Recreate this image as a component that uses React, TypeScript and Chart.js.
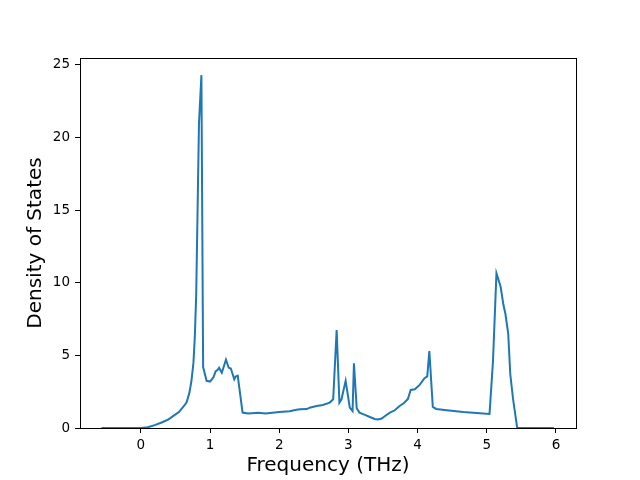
import React, { useEffect, useRef } from "react";
import { Chart, registerables } from "chart.js";

Chart.register(...registerables);

const freq: number[] = [
  -0.57, -0.3, 0.0, 0.1, 0.2, 0.3, 0.4, 0.47, 0.55, 0.62, 0.66, 0.7, 0.73, 0.76, 0.78, 0.8, 0.84, 0.875,
  0.9, 0.95, 1.0, 1.05, 1.08, 1.11, 1.13, 1.17, 1.23, 1.27, 1.3, 1.35, 1.37, 1.4, 1.47, 1.55, 1.7, 1.8,
  1.9, 2.0, 2.15, 2.25, 2.3, 2.4, 2.44, 2.54, 2.63, 2.73, 2.78, 2.83, 2.87, 2.9, 2.96, 3.02, 3.06, 3.08,
  3.12, 3.16, 3.24, 3.31, 3.38, 3.43, 3.48, 3.53, 3.6, 3.67, 3.74, 3.8, 3.86, 3.9, 3.96, 4.03, 4.1, 4.14,
  4.17, 4.22, 4.27, 4.42, 4.66, 4.9, 5.04, 5.09, 5.14, 5.2, 5.24, 5.27, 5.31, 5.34, 5.38, 5.44, 5.6, 5.97,
];
const dos: number[] = [
  0, 0, 0, 0.05, 0.2, 0.38, 0.6, 0.83, 1.1, 1.5, 1.75, 2.4, 3.2, 4.5, 6.3, 9.2, 21.0, 24.3,
  4.2, 3.25, 3.2, 3.5, 3.9, 4.0, 4.15, 3.8, 4.7, 4.15, 4.1, 3.35, 3.55, 3.6, 1.06, 1.0, 1.05, 1.0,
  1.05, 1.1, 1.15, 1.25, 1.29, 1.3, 1.4, 1.52, 1.59, 1.75, 1.98, 6.75, 1.75, 1.98, 3.25, 1.4, 1.17, 4.45,
  1.36, 1.06, 0.9, 0.76, 0.62, 0.58, 0.65, 0.83, 1.06, 1.22, 1.52, 1.7, 2.0, 2.62, 2.67, 2.97, 3.43, 3.55,
  5.3, 1.45, 1.31, 1.22, 1.1, 1.01, 0.97, 4.6, 10.65, 9.74, 8.5, 7.85, 6.5, 3.7, 2.0, 0, 0, 0,
];
const xTicks: number[] = [0, 1, 2, 3, 4, 5, 6];
const yTicks: number[] = [0, 5, 10, 15, 20, 25];

const frame = {
  id: "frame",
  afterDraw(chart: any) {
    const { ctx, chartArea } = chart;
    ctx.save();
    ctx.strokeStyle = "#000";
    ctx.lineWidth = 1;
    ctx.strokeRect(
      Math.round(chartArea.left) + 0.5,
      Math.round(chartArea.top) + 0.5,
      Math.round(chartArea.right - chartArea.left),
      Math.round(chartArea.bottom - chartArea.top)
    );
    ctx.restore();
  },
};

export default function App() {
  const ref = useRef<HTMLCanvasElement | null>(null);
  useEffect(() => {
    document.body.style.margin = "0";
    const font = "'DejaVu Sans', sans-serif";
    const chart = new Chart(ref.current as HTMLCanvasElement, {
      type: "line",
      data: {
        datasets: [
          {
            data: freq.map((f, i) => ({ x: f, y: dos[i] })),
            borderColor: "#1f77b4",
            borderWidth: 2,
            pointRadius: 0,
            tension: 0,
            fill: false,
          },
        ],
      },
      options: {
        responsive: false,
        animation: false,
        events: [],
        layout: { padding: { left: 0, top: 58, right: 64, bottom: 0 } },
        plugins: { legend: { display: false }, tooltip: { enabled: false } },
        scales: {
          x: {
            type: "linear",
            min: -0.88,
            max: 6.29,
            afterBuildTicks: (s: any) => {
              s.ticks = xTicks.map((v) => ({ value: v }));
            },
            afterFit: (s: any) => {
              s.height = 52;
            },
            grid: { drawOnChartArea: false, drawTicks: true, tickLength: 5, color: "#000" },
            border: { display: true, color: "#000" },
            ticks: { color: "#000", font: { family: font, size: 13.5 }, padding: 4, maxRotation: 0 },
            title: {
              display: true,
              text: "Frequency (THz)",
              color: "#000",
              font: { family: font, size: 20 },
              padding: { top: 2, bottom: 2 },
            },
          },
          y: {
            min: 0,
            max: 25.48,
            afterBuildTicks: (s: any) => {
              s.ticks = yTicks.map((v) => ({ value: v }));
            },
            afterFit: (s: any) => {
              s.width = 80;
            },
            grid: { drawOnChartArea: false, drawTicks: true, tickLength: 5, color: "#000" },
            border: { display: true, color: "#000" },
            ticks: { color: "#000", font: { family: font, size: 13.5 }, padding: 5 },
            title: {
              display: true,
              text: "Density of States",
              color: "#000",
              font: { family: font, size: 20 },
              padding: { top: 24, bottom: 0 },
            },
          },
        },
      },
      plugins: [frame],
    });
    return () => chart.destroy();
  }, []);
  return <canvas ref={ref} width={640} height={480} style={{ display: "block" }} />;
}
